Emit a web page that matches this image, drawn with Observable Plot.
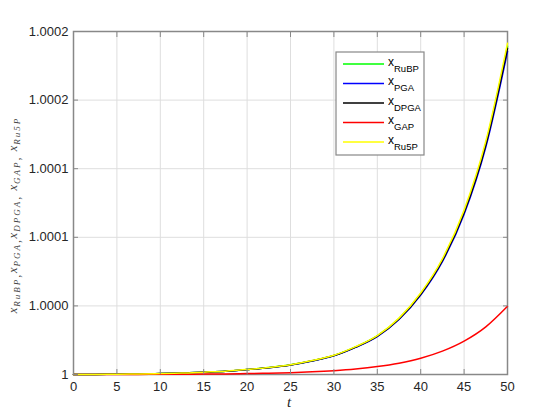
<!DOCTYPE html>
<html><head><meta charset="utf-8">
<script src="https://cdn.jsdelivr.net/npm/d3@7"></script>
<script src="https://cdn.jsdelivr.net/npm/@observablehq/plot@0.6"></script>
<style>body{margin:0;background:#fff} svg{display:block}</style>
</head><body><div id="chart"></div>
<script>
const t = [0,2.5,5,7.5,10,12.5,15,17.5,20,22.5,25,27.5,30,32.5,35,37.5,40,42.5,45,47.5,50];
const xRuBP = [1,1.00000009,1.00000022,1.0000004,1.00000066,1.00000104,1.00000171,1.00000241,1.00000362,1.00000503,1.00000704,1.00001006,1.00001388,1.00002012,1.00002817,1.00004074,1.00005885,1.0000836,1.0001187,1.0001685,1.0002392];
const xPGA  = [1,1.00000009,1.00000022,1.0000004,1.00000065,1.00000102,1.00000168,1.00000238,1.00000356,1.00000495,1.00000693,1.0000099,1.00001366,1.0000198,1.0000277,1.0000401,1.0000579,1.0000823,1.0001168,1.0001658,1.0002354];
const xDPGA = [1,1.00000009,1.00000022,1.0000004,1.00000066,1.00000103,1.0000017,1.0000024,1.0000036,1.000005,1.000007,1.00001,1.0000138,1.00002,1.000028,1.0000405,1.0000585,1.0000831,1.000118,1.0001675,1.0002378];
const xGAP  = [1,1.00000002,1.00000004,1.00000008,1.00000012,1.0000002,1.00000029,1.00000045,1.00000064,1.00000095,1.00000135,1.00000195,1.00000281,1.00000403,1.00000578,1.00000828,1.00001185,1.000017,1.0000243,1.0000347,1.0000497];
const xRu5P = [1,1.00000009,1.00000022,1.00000041,1.00000067,1.00000105,1.00000173,1.00000244,1.00000365,1.00000508,1.0000071,1.00001015,1.000014,1.0000203,1.0000284,1.0000411,1.0000594,1.0000843,1.0001198,1.00017,1.0002414];

const seriesNames = ["RuBP","PGA","DPGA","GAP","Ru5P"];
const seriesColors = ["#00ff00","#0000ff","#000000","#ff0000","#ffff00"];
const xTicks = [0,5,10,15,20,25,30,35,40,45,50];
const yTicks = [1,1.00005,1.0001,1.00015,1.0002,1.00025];
const yTickLabels = ["1","1.0000","1.0001","1.0001","1.0002","1.0002"];
const xLabel = "t";

const allSeries = [xRuBP, xPGA, xDPGA, xGAP, xRu5P];
const rows = allSeries.flatMap((vals, i) => vals.map((v, j) => ({t: t[j], v, s: seriesNames[i]})));

const axisStroke = "#888888";
const textColor = "#262626";
const blank = () => "";

const plot = Plot.plot({
  width: 560, height: 420,
  marginLeft: 73, marginRight: 53, marginTop: 31, marginBottom: 46,
  style: {fontFamily: "'Liberation Sans', Arial, sans-serif", fontSize: "13px", color: textColor, background: "#fff"},
  x: {domain: [0, 50]},
  y: {domain: [1, 1.00025]},
  color: {domain: seriesNames, range: seriesColors},
  marks: [
    Plot.gridX(xTicks.slice(1, -1), {stroke: "#dedede", strokeOpacity: 1}),
    Plot.gridY(yTicks.slice(1, -1), {stroke: "#dedede", strokeOpacity: 1}),
    Plot.frame({stroke: axisStroke, strokeWidth: 1.5}),
    Plot.line(rows, {x: "t", y: "v", z: "s", stroke: "s", strokeWidth: 1.5, curve: "monotone-x"}),
    Plot.axisX(xTicks, {anchor: "bottom", tickSize: 0, tickPadding: 7, label: null, fill: textColor}),
    Plot.axisY(yTicks, {anchor: "left", tickSize: 0, tickPadding: 5, label: null, fill: textColor,
      tickFormat: (d) => yTickLabels[yTicks.indexOf(d)]}),
    Plot.axisX(xTicks, {anchor: "bottom", tickSize: 5, dy: -5, tickFormat: blank, label: null, stroke: axisStroke}),
    Plot.axisX(xTicks, {anchor: "top", tickSize: 5, dy: 5, tickFormat: blank, label: null, stroke: axisStroke}),
    Plot.axisY(yTicks, {anchor: "left", tickSize: 5, dx: 5, tickFormat: blank, label: null, stroke: axisStroke}),
    Plot.axisY(yTicks, {anchor: "right", tickSize: 5, dx: -5, tickFormat: blank, label: null, stroke: axisStroke})
  ]
});

const svg = d3.select(plot);

// x label
svg.append("text")
  .attr("x", 289).attr("y", 407)
  .attr("text-anchor", "middle")
  .attr("font-family", "'Liberation Serif', 'DejaVu Serif', serif")
  .attr("font-style", "italic").attr("font-size", 15).attr("fill", textColor)
  .text(xLabel);

// y label with subscripts
const yl = svg.append("text")
  .attr("transform", "translate(17,215) rotate(-90)")
  .attr("text-anchor", "middle")
  .attr("font-family", "'Liberation Serif', 'DejaVu Serif', serif")
  .attr("font-style", "italic").attr("fill", "#444");
const seps = [",", ",", ", ", ", ", ""];
seriesNames.forEach((n, i) => {
  yl.append("tspan").attr("font-size", 12.5).attr("dy", i === 0 ? 0 : -3).attr("letter-spacing", 1).text("x");
  yl.append("tspan").attr("font-size", 9).attr("dy", 3).attr("letter-spacing", 2).text(n);
  if (seps[i]) yl.append("tspan").attr("font-size", 12.5).attr("letter-spacing", 1.5).text(seps[i]);
});

// legend
const lg = svg.append("g");
lg.append("rect").attr("x", 336).attr("y", 52).attr("width", 88).attr("height", 103)
  .attr("fill", "#fff").attr("stroke", axisStroke).attr("stroke-width", 1.2);
const rowY = [64, 83.5, 103, 122.5, 142];
seriesNames.forEach((n, i) => {
  lg.append("line").attr("x1", 343).attr("x2", 384).attr("y1", rowY[i]).attr("y2", rowY[i])
    .attr("stroke", seriesColors[i]).attr("stroke-width", 1.4);
  const tx = lg.append("text").attr("x", 388).attr("y", rowY[i] + 1.5)
    .attr("text-anchor", "start")
    .attr("font-family", "'Liberation Sans', Arial, sans-serif").attr("fill", "#000");
  tx.append("tspan").attr("font-size", 12).text("x");
  tx.append("tspan").attr("font-size", 9.5).attr("dy", 6).text(n);
});

document.getElementById("chart").appendChild(plot);
</script>
</body></html>
